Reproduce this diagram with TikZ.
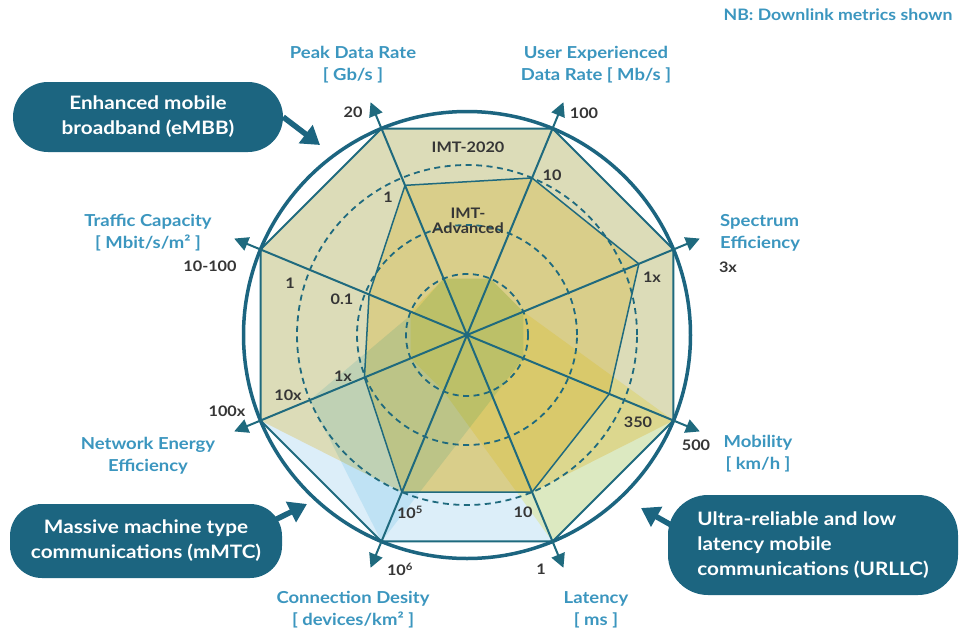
\documentclass[tikz,border=0pt]{standalone}
\usepackage{fontspec}
\setmainfont{Lato}[FakeStretch=1.12]
\usetikzlibrary{arrows.meta,calc}
\definecolor{darkteal}{HTML}{1C6580}
\definecolor{lineteal}{HTML}{1F6A7E}
\definecolor{labblue}{HTML}{3B96BF}
\definecolor{numgray}{HTML}{363636}
\definecolor{baseblue}{HTML}{DCEEF9}
\definecolor{khakifill}{HTML}{DCDCB8}
\definecolor{imtadvfill}{HTML}{D9CE8A}
\definecolor{mmtcmul}{HTML}{DEF3FA}
\definecolor{urllcmul}{HTML}{FFFAC6}
\begin{document}
\begin{tikzpicture}[x=1pt,y=1pt,
  lab/.style={font=\fontsize{16.5}{22}\selectfont\bfseries, text=labblue, align=center, inner sep=0pt},
  num/.style={font=\fontsize{14.5}{15}\selectfont\bfseries, text=numgray, inner sep=0pt, align=center},
  callbox/.style={fill=darkteal, text=white, font=\fontsize{18.5}{25}\selectfont\bfseries, align=center, inner sep=0pt},
  calarrow/.style={draw=darkteal, line width=5.5pt, -{Triangle[length=18pt,width=22pt]}},
  axisline/.style={draw=lineteal, line width=2pt, -{Triangle[length=14pt,width=14pt]}},
  dashline/.style={draw=lineteal, line width=1.8pt, dash pattern=on 6pt off 4.5pt},
  polyline/.style={draw=lineteal, line width=1.5pt, line join=round},
  octline/.style={draw=lineteal, line width=2pt, line join=round}]
\useasboundingbox (0,0) rectangle (970,-635);
\fill[white] (0,0) rectangle (970,-635);
\coordinate (O) at (467,-335);
\begin{scope}[shift={(467,-335)}]
  \def\R{223.5}
  % base IMT-2020 octagon
  \fill[baseblue] (112.5:\R) -- (67.5:\R) -- (22.5:\R) -- (-22.5:\R) -- (-67.5:\R) -- (-112.5:\R) -- (-157.5:\R) -- (157.5:\R) -- cycle;
  % eMBB
  \fill[khakifill] (112.5:\R) -- (67.5:\R) -- (22.5:\R) -- (-22.5:\R) -- (-67.5:170) -- (-112.5:170) -- (-157.5:\R) -- (157.5:\R) -- cycle;
  % IMT-Advanced
  \fill[imtadvfill] (112.5:162) -- (67.5:170) -- (22.5:186) -- (-22.5:154) -- (-67.5:170) -- (-112.5:170) -- (-157.5:111) -- (157.5:106) -- cycle;
  \begin{scope}[blend mode=multiply]
    % mMTC
    \fill[mmtcmul] (112.5:61) -- (67.5:61) -- (22.5:61) -- (-22.5:61) -- (-112.5:\R) -- (-157.5:170) -- (157.5:58) -- cycle;
    % URLLC
    \fill[urllcmul] (112.5:61) -- (67.5:61) -- (22.5:61) -- (-22.5:\R) -- (-67.5:\R) -- (-112.5:61) -- (-157.5:61) -- (157.5:61) -- cycle;
  \end{scope}
  % dashed circles
  \draw[dashline] (0,0) circle (61pt);
  \draw[dashline] (0,0) circle (110pt);
  \draw[dashline] (0,0) circle (170pt);
  % outlines
  \draw[polyline] (112.5:162) -- (67.5:170) -- (22.5:186) -- (-22.5:154) -- (-67.5:170) -- (-112.5:170) -- (-157.5:111) -- (157.5:106) -- cycle;
  \draw[octline] (112.5:\R) -- (67.5:\R) -- (22.5:\R) -- (-22.5:\R) -- (-67.5:\R) -- (-112.5:\R) -- (-157.5:\R) -- (157.5:\R) -- cycle;
  % axis tips
  \coordinate (tPK) at (112.5:252);
  \coordinate (tUE) at (67.5:252);
  \coordinate (tSE) at (22.5:252);
  \coordinate (tMO) at (-22.5:252);
  \coordinate (tLA) at (-67.5:252);
  \coordinate (tCD) at (-112.5:252);
  \coordinate (tNE) at (-157.5:252);
  \coordinate (tTC) at (157.5:252);
  \draw[darkteal, line width=3.5pt] (0,0) circle (\R pt);
\end{scope}
\foreach \t in {tPK,tUE,tSE,tMO,tLA,tCD,tNE,tTC} \draw[axisline] (O) -- (\t);

% axis labels
\node[lab, font=\fontsize{15.8}{20}\selectfont\bfseries] (nb) at (838,-15) {NB: Downlink metrics shown};
\node[lab] (lpk) at (353,-64.5) {Peak Data Rate\\{[} Gb/s ]};
\node[lab] (lue) at (596,-64.5) {User Experienced\\Data Rate [ Mb/s ]};
\node[lab, anchor=west, align=left] (lse) at (720,-232.5) {Spectrum\\Efficiency};
\node[lab] (ltc) at (148,-233) {Traffic Capacity\\{[} Mbit/s/m² ]};
\node[lab] (lmo) at (758,-454) {Mobility\\{[} km/h ]};
\node[lab] (lne) at (148,-456) {Network Energy\\Efficiency};
\node[lab] (lcd) at (353,-610) {Connection Desity\\{[} devices/km² ]};
\node[lab] (lla) at (596,-610) {Latency\\{[} ms ]};

% numbers
\node[num] (n20) at (353,-112) {20};
\node[num] (n1pk) at (388,-197) {1};
\node[num] (n100) at (584,-113) {100};
\node[num] (n10ue) at (552,-175) {10};
\node[num] (n3x) at (728,-267) {3x};
\node[num] (n1xse) at (652,-277) {1x};
\node[num] (n10100) at (210,-266) {10-100};
\node[num] (n1tc) at (290,-283) {1};
\node[num] (n01) at (342,-299) {0.1};
\node[num] (n100x) at (227,-411) {100x};
\node[num] (n10x) at (288,-395) {10x};
\node[num] (n1xne) at (343,-376) {1x};
\node[num] (n500) at (696,-445) {500};
\node[num] (n350) at (638,-422) {350};
\node[num] (n1e6) at (400,-569) {10\textsuperscript{6}};
\node[num] (n1la) at (541,-569) {1};
\node[num] (n1e5) at (410,-512) {10\textsuperscript{5}};
\node[num] (n10la) at (523,-512) {10};
\node[num] (imt20) at (468,-147) {IMT-2020};
\node[num] (imtadv) at (468,-221) {IMT-\\Advanced};

% callouts
\node[callbox, minimum width=270pt, minimum height=70pt, rounded corners=35pt] (embb) at (148,-117) {Enhanced mobile\\broadband (eMBB)};
\node[callbox, minimum width=272pt, minimum height=74pt, rounded corners=32pt] (mmtc) at (146,-541) {Massive machine type\\communications (mMTC)};
\node[callbox, minimum width=290pt, minimum height=100pt, rounded corners=40pt, align=left] (urllc) at (813,-545) {Ultra-reliable and low\\latency mobile\\communications (URLLC)};
\coordinate (embbTip) at (320,-145);
\coordinate (mmtcTip) at (307,-504);
\coordinate (urllcTip) at (641,-508);
\draw[calarrow] (embb.east) -- (embbTip);
\draw[calarrow] ($(mmtc.north east)+(-9,-17)$) -- (mmtcTip);
\draw[calarrow] ($(urllc.west)+(14,14)$) -- (urllcTip);
\end{tikzpicture}
\end{document}
